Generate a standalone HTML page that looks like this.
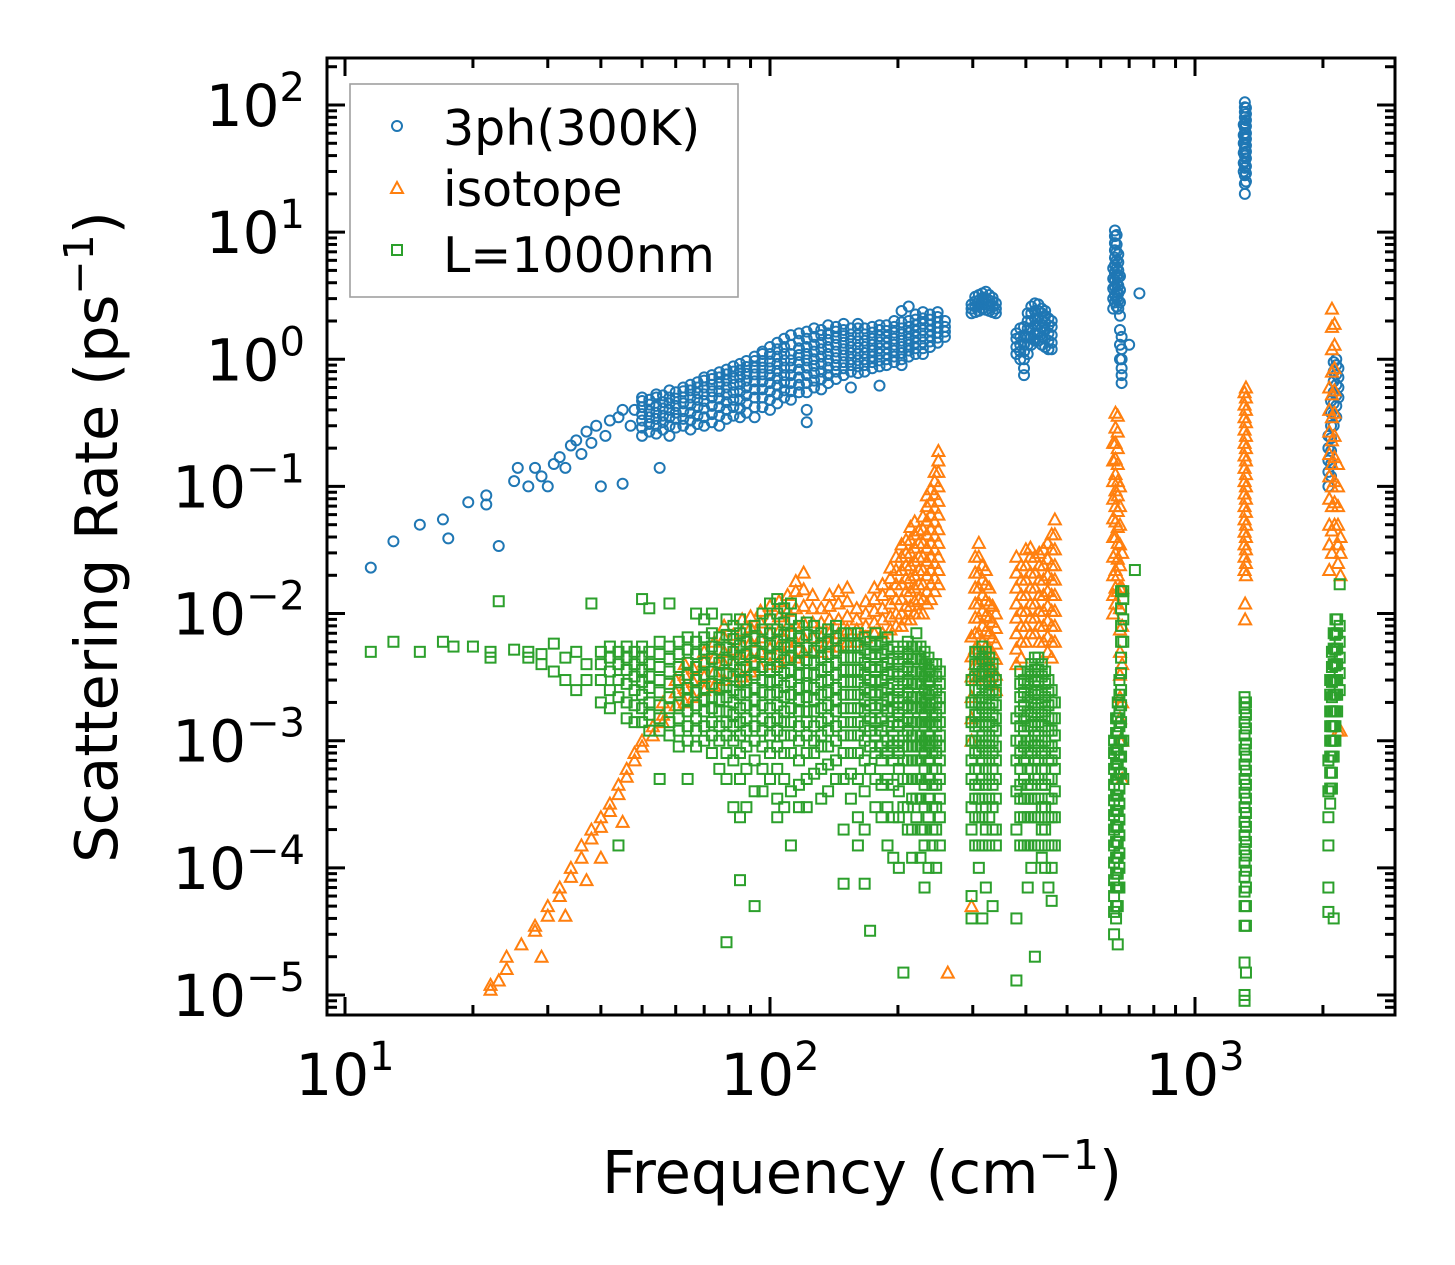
<!DOCTYPE html>
<html><head><meta charset="utf-8"><style>
body{margin:0;background:#fff;}
svg{display:block;font-family:"DejaVu Sans","Liberation Sans",sans-serif;}
</style></head><body>
<svg id="chart" width="1455" height="1265" viewBox="0 0 1455 1265" xmlns="http://www.w3.org/2000/svg">
<rect width="1455" height="1265" fill="#fff"/>
<g id="marks"></g>
<g id="axes"></g>
<g id="legend">
  <rect x="350" y="84" width="388" height="213" fill="#fff" fill-opacity="0.85" stroke="#a0a0a0" stroke-width="1.6"/>
  <circle cx="397" cy="126" r="5" fill="none" stroke="#1f77b4" stroke-width="2"/>
  <text x="443" y="145" font-size="49" fill="#000">3ph(300K)</text>
  <polygon points="397,182 403,193 391,193" fill="none" stroke="#ff7f0e" stroke-width="2"/>
  <text x="443" y="206" font-size="49" fill="#000">isotope</text>
  <rect x="392" y="245" width="10" height="10" fill="none" stroke="#2ca02c" stroke-width="2"/>
  <text x="443" y="272" font-size="49" fill="#000">L=1000nm</text>
</g>
<text x="862" y="1193" font-size="59" text-anchor="middle">Frequency (cm<tspan dy="-24" font-size="41">−1</tspan><tspan dy="24">)</tspan></text>
<text transform="translate(117,537) rotate(-90)" font-size="59" text-anchor="middle">Scattering Rate (ps<tspan dy="-24" font-size="41">−1</tspan><tspan dy="24">)</tspan></text>
</svg>
<script>
const xTickExps = [1, 2, 3];
const yTickExps = [2, 1, 0, -1, -2, -3, -4, -5];
const blueCols = [
[11.5,[0.023]],[13,[0.037]],[15,[0.05]],[17,[0.055]],[17.5,[0.039]],[19.5,[0.075]],[21.5,[0.085,0.072]],[23,[0.034]],
[25,[0.11]],[25.5,[0.14]],[27,[0.1]],[28,[0.14]],[29,[0.12]],[30,[0.1]],[31,[0.15]],[32,[0.17]],[33,[0.14]],[34,[0.21]],
[35,[0.23]],[36,[0.18]],[37,[0.27]],[38,[0.22]],[39,[0.3]],[40,[0.1]],[41,[0.25]],[42,[0.33]],[44,[0.35]],[45,[0.4,0.105]],
[47,[0.3]],[48,[0.4]],[55,[0.14]],
[50,[.25,.29,.33,.37,.42,.47,.5]],[52,[.27,.31,.35,.39,.44,.48]],[54,[.26,.3,.34,.38,.43,.5,.53]],[56,[.28,.32,.36,.41,.46,.52]],
[58,[.25,.3,.35,.4,.45,.5,.57]],[60,[.29,.34,.38,.43,.49,.55]],[62.5,[.3,.34,.39,.45,.5,.56,.6]],[65,[.28,.33,.38,.44,.5,.57,.63]],
[67.5,[.31,.36,.42,.48,.54,.6,.66]],[70,[.3,.35,.41,.47,.53,.6,.68,.72]],[73,[.32,.37,.43,.5,.56,.63,.7,.75]],
[76,[.3,.36,.42,.49,.56,.64,.72,.79]],[79,[.34,.4,.46,.53,.6,.68,.76,.83]],[82,[.36,.42,.48,.55,.63,.71,.8,.88]],
[85,[.35,.41,.48,.56,.64,.73,.82,.92]],[88,[.38,.45,.52,.6,.68,.77,.87,.97]],[92,[.35,.42,.5,.58,.67,.76,.86,.97,1.05]],
[96,[.42,.5,.58,.67,.76,.86,.97,1.1,1.15]],[100,[.4,.48,.56,.65,.75,.85,.96,1.1,1.25]],[104,[.45,.53,.62,.71,.81,.92,1.05,1.2,1.35]],
[108,[.5,.57,.66,.75,.86,.98,1.1,1.25,1.45]],[112,[.48,.56,.65,.75,.86,.98,1.1,1.3,1.55]],[117,[.55,.63,.72,.83,.95,1.08,1.22,1.4,1.6]],
[122,[.32,.4,.55,.65,.75,.86,.98,1.1,1.25,1.45,1.65]],[127,[.6,.68,.78,.89,1.0,1.15,1.3,1.5,1.75]],[132,[.58,.7,.8,.92,1.05,1.2,1.35,1.55,1.7]],
[137,[.65,.75,.86,.98,1.1,1.25,1.42,1.6,1.85]],[143,[.7,.8,.9,1.02,1.15,1.3,1.47,1.65,1.8]],[149,[.75,.85,.95,1.07,1.2,1.35,1.52,1.7,1.9]],
[155,[.6,.8,.9,1.0,1.12,1.25,1.4,1.57,1.75]],[161,[.78,.88,.98,1.1,1.23,1.38,1.55,1.75,1.9]],[167,[.8,.9,1.0,1.12,1.25,1.4,1.57,1.75]],
[174,[.85,.95,1.05,1.17,1.3,1.45,1.62,1.8]],[181,[.62,.88,.98,1.1,1.22,1.36,1.52,1.7,1.85]],[188,[.9,1.0,1.1,1.22,1.35,1.5,1.67,1.85]],
[196,[.95,1.05,1.17,1.3,1.45,1.62,1.8,2.0]],[204,[.9,1.0,1.12,1.25,1.4,1.57,1.75,1.95,2.4]],[212,[1.05,1.17,1.3,1.45,1.62,1.8,2.0,2.6]],
[220,[1.1,1.22,1.35,1.5,1.67,1.85,2.05,2.25]],[229,[1.1,1.22,1.36,1.52,1.7,1.9,2.1,2.35]],[238,[1.25,1.38,1.52,1.68,1.86,2.05,2.25]],
[248,[1.35,1.48,1.62,1.78,1.95,2.15,2.35]],[258,[1.5,1.65,1.8,2.0]],
[298,[2.3,2.5,2.7]],[304,[2.35,2.6,2.85,3.1]],[310,[2.4,2.65,2.9,3.2]],[316,[2.5,2.75,3.0,3.3]],[322,[2.45,2.7,3.0,3.4]],
[328,[2.4,2.65,2.9,3.2]],[334,[2.35,2.6,2.85,3.05]],[340,[2.3,2.5,2.75]],
[380,[1.1,1.25,1.45,1.6]],[388,[1.0,1.15,1.3,1.5,1.75]],[396,[.75,.85,1.0,1.15,1.3,1.5,1.8]],[404,[1.1,1.3,1.5,1.75,2.0,2.3]],
[412,[1.3,1.5,1.75,2.0,2.3,2.6]],[420,[1.4,1.6,1.85,2.1,2.4,2.75]],[428,[1.4,1.6,1.85,2.1,2.4,2.7]],[436,[1.3,1.5,1.75,2.0,2.3,2.5]],
[444,[1.25,1.45,1.7,1.95,2.2,2.4]],[452,[1.2,1.4,1.6,1.85,2.1]],[460,[1.2,1.35,1.55,1.8,2.0]],
[642,[2.5,3,3.6,4.3,5.2]],[648,[2.8,3.2,3.7,4.2,4.8,5.5,6.3,7.2,8.2,9.3,10.3]],[654,[2.6,3,3.4,3.9,4.5,5.2,6,7,8,9.5]],
[660,[2.5,2.9,3.3,3.8,4.4,5,5.8,6.7]],[666,[1.0,1.3,1.7,2.2,2.8,3.5,4.5]],[672,[.65,.75,.85,1.0,1.2,1.5]],[700,[1.3]],[740,[3.3]],
[1302,[30,35,42,50,58,70]],[1310,[20,24,28,32,36,40,45,50,55,60,66,72,80,88,96,105]],[1318,[25,29,33,38,43,48,54,60,68,76,85,95]],
[2060,[.1,.13,.16,.2,.25]],[2090,[.12,.15,.19,.24,.3,.38,.47]],[2120,[.3,.37,.45,.55,.67,.8,.95]],[2150,[.35,.43,.52,.63,.76,.9,1.0]],[2175,[.5,.6,.72,.85]]
];
const orangeCols = [
[22,[1.1e-5,1.2e-5]],[23,[1.3e-5]],[24,[1.6e-5,2e-5]],[26,[2.5e-5]],[28,[3.5e-5,3.2e-5]],[29,[2e-5]],[30,[5e-5,4.2e-5]],
[32,[7e-5,6e-5]],[33,[4.2e-5]],[34,[1e-4,8.5e-5]],[36,[1.5e-4,1.2e-4]],[37,[8e-5]],[38,[2e-4,1.7e-4]],[40,[2.5e-4,2.1e-4,1.2e-4]],
[42,[3.2e-4,2.8e-4]],[44,[4.5e-4,3.8e-4]],[45,[2.3e-4]],[46,[6e-4,5.2e-4]],[48,[8e-4,7e-4]],[50,[1e-3,9e-4]],[53,[1.3e-3,1.1e-3]],
[56,[1.6e-3,1.4e-3,2e-3]],
[60,[1.9e-3,2.4e-3,3e-3]],[63,[2e-3,2.6e-3,3.3e-3,4e-3]],[66,[2.2e-3,2.9e-3,3.7e-3]],[70,[2.5e-3,3.2e-3,4.2e-3,5e-3]],
[74,[2.7e-3,3.5e-3,4.5e-3,6e-3]],[78,[3e-3,4e-3,5e-3,6.5e-3,8e-3]],[82,[3e-3,4e-3,5.2e-3,6.8e-3]],[86,[3.2e-3,4.3e-3,5.6e-3,7.3e-3,9e-3]],
[90,[3.5e-3,4.6e-3,6e-3,7.8e-3,9.5e-3]],[95,[3.8e-3,5e-3,6.5e-3,8.5e-3,1.05e-2]],[100,[4e-3,5.3e-3,7e-3,9e-3,1.15e-2]],
[105,[4.2e-3,5.6e-3,7.3e-3,9.5e-3,1.25e-2]],[110,[4.5e-3,6e-3,8e-3,1.05e-2,1.4e-2]],[115,[4.5e-3,6e-3,8e-3,1.1e-2,1.5e-2,1.8e-2]],
[120,[5e-3,6.5e-3,8.5e-3,1.15e-2,1.55e-2,2.1e-2]],[126,[5e-3,6.5e-3,8.5e-3,1.1e-2,1.4e-2]],[132,[5e-3,6.5e-3,8.5e-3,1.1e-2]],
[138,[5.5e-3,7e-3,9e-3,1.15e-2,1.4e-2]],[145,[5.5e-3,7e-3,9e-3,1.2e-2,1.5e-2]],[152,[6e-3,7.5e-3,9.5e-3,1.25e-2,1.6e-2]],
[160,[6e-3,7.5e-3,9e-3,1.1e-2]],[168,[6.5e-3,8e-3,1e-2,1.25e-2]],[176,[7e-3,8.5e-3,1.05e-2,1.3e-2,1.6e-2]],
[184,[7e-3,9e-3,1.1e-2,1.4e-2,1.7e-2]],[192,[7.5e-3,9.5e-3,1.2e-2,1.5e-2,1.9e-2,2.3e-2]],[198,[8e-3,1e-2,1.3e-2,1.7e-2,2.2e-2,2.8e-2]],
[204,[8e-3,1e-2,1.3e-2,1.7e-2,2.2e-2,2.8e-2,3.5e-2]],[209,[9e-3,1.15e-2,1.5e-2,1.9e-2,2.4e-2,3e-2,3.8e-2]],
[214,[9e-3,1.15e-2,1.5e-2,1.9e-2,2.4e-2,3e-2,3.8e-2,4.8e-2]],[219,[1e-2,1.25e-2,1.6e-2,2e-2,2.6e-2,3.3e-2,4.2e-2,5.3e-2]],
[224,[1e-2,1.3e-2,1.7e-2,2.2e-2,2.8e-2,3.6e-2,4.5e-2]],[229,[1e-2,1.3e-2,1.7e-2,2.2e-2,2.8e-2,3.6e-2,4.6e-2,5.8e-2]],
[234,[1.2e-2,1.5e-2,2e-2,2.6e-2,3.3e-2,4.2e-2,5.4e-2,7e-2,8.5e-2]],[239,[1.3e-2,1.7e-2,2.2e-2,2.8e-2,3.6e-2,4.6e-2,6e-2,7.6e-2,9.5e-2]],
[244,[1.5e-2,1.9e-2,2.5e-2,3.2e-2,4.1e-2,5.3e-2,6.8e-2,8.7e-2,1.1e-1,1.3e-1]],
[249,[1.7e-2,2.2e-2,2.8e-2,3.6e-2,4.6e-2,6e-2,7.7e-2,1e-1,1.3e-1,1.6e-1,1.9e-1]],[262,[1.5e-5]],
[298,[5e-5,1e-3,1.5e-3,2.2e-3,3.2e-3,4.6e-3,6.6e-3]],[304,[3e-3,4e-3,5.3e-3,7e-3,9.3e-3,1.2e-2,1.6e-2,2.1e-2,2.8e-2]],
[310,[3e-3,4e-3,5.3e-3,7e-3,9.3e-3,1.2e-2,1.6e-2,2.1e-2,2.8e-2,3.6e-2]],[316,[3.5e-3,4.6e-3,6e-3,8e-3,1.05e-2,1.4e-2,1.85e-2,2.4e-2]],
[322,[3.2e-3,4.2e-3,5.5e-3,7.3e-3,9.6e-3,1.27e-2,1.7e-2,2.2e-2]],[328,[3e-3,4e-3,5.3e-3,7e-3,9.3e-3,1.2e-2,1.6e-2]],
[334,[2.8e-3,3.7e-3,4.9e-3,6.5e-3,8.6e-3,1.15e-2]],[340,[2.5e-3,3.3e-3,4.4e-3,5.8e-3,7.7e-3,1e-2]],
[380,[4e-3,5.3e-3,7e-3,9.3e-3,1.2e-2,1.6e-2,2.1e-2,2.8e-2]],[390,[4.5e-3,6e-3,8e-3,1.05e-2,1.4e-2,1.85e-2,2.4e-2]],
[400,[6e-3,8e-3,1.05e-2,1.4e-2,1.85e-2,2.4e-2,3.2e-2]],[410,[7e-3,9.3e-3,1.2e-2,1.6e-2,2.1e-2,2.8e-2,3.3e-2]],
[420,[7e-3,9.3e-3,1.2e-2,1.6e-2,2.1e-2,2.8e-2]],[430,[6e-3,8e-3,1.05e-2,1.4e-2,1.85e-2,2.4e-2,3e-2]],
[440,[6e-3,8e-3,1.05e-2,1.4e-2,1.85e-2,2.4e-2,3.2e-2]],[450,[5e-3,6.6e-3,8.8e-3,1.15e-2,1.5e-2,2e-2,2.7e-2,3.6e-2]],
[460,[4.5e-3,6e-3,8e-3,1.05e-2,1.4e-2,1.85e-2,2.4e-2,3.2e-2,4.2e-2]],[468,[6e-3,8e-3,1.05e-2,1.4e-2,1.85e-2,2.4e-2,3.2e-2,4.2e-2,5.5e-2]],
[642,[1e-2,1.4e-2,2e-2,2.8e-2,4e-2,5.6e-2,8e-2,1.1e-1,1.6e-1,2.2e-1]],
[650,[1.2e-2,1.6e-2,2.2e-2,3e-2,4e-2,5.3e-2,7e-2,9.3e-2,1.25e-1,1.65e-1,2.2e-1,2.9e-1,3.8e-1]],
[658,[1.5e-2,2e-2,2.7e-2,3.6e-2,4.8e-2,6.4e-2,8.5e-2,1.1e-1,1.5e-1,2e-1,2.7e-1,3.6e-1]],
[666,[1e-3,1.5e-3,2.2e-3,3.3e-3,5e-3,7.5e-3,1.1e-2,1.6e-2,2.4e-2,3.5e-2,5e-2,7e-2,1e-1]],
[674,[5e-4,1e-3,2e-3,4e-3,8e-3,1.6e-2,3e-2]],
[1308,[2.2e-2,2.8e-2,3.5e-2,4.4e-2,5.5e-2,7e-2,8.8e-2,1.1e-1,1.4e-1,1.75e-1,2.2e-1,2.8e-1,3.5e-1,4.4e-1,5.5e-1]],
[1318,[2e-2,2.5e-2,3.2e-2,4e-2,5e-2,6.3e-2,8e-2,1e-1,1.25e-1,1.6e-1,2e-1,2.5e-1,3.2e-1,4e-1,5e-1,6e-1]],[1312,[1.2e-2,9e-3]],
[2070,[2.2e-2,3.5e-2,5e-2,8e-2,1.2e-1,1.8e-1,2.7e-1,4e-1,6e-1]],
[2100,[3e-2,4.5e-2,7e-2,1e-1,1.5e-1,2.3e-1,3.5e-1,5.3e-1,8e-1,1.2,1.8,2.5]],
[2130,[5e-2,7.5e-2,1.1e-1,1.7e-1,2.5e-1,3.8e-1,5.7e-1,8.5e-1,1.3,1.9]],
[2170,[1.2e-3,2.5e-2,3.5e-2,5e-2,7e-2,1e-1,1.5e-1]],[2200,[1.2e-3,2e-2,3e-2,4e-2]]
];
const greenCols = [
[11.5,[5e-3]],[13,[6e-3]],[15,[5e-3]],[17,[6e-3]],[18,[5.5e-3]],[20,[5.5e-3]],[22,[4.5e-3,5e-3]],[23,[1.25e-2]],[25,[5.2e-3]],
[27,[4.5e-3,5e-3]],[29,[4.8e-3,4e-3]],[31,[5.8e-3,3.5e-3]],[33,[4.5e-3,3e-3]],[35,[5e-3,2.5e-3]],[37,[4e-3,3e-3]],[38,[1.2e-2]],
[40,[5e-3,4e-3,3e-3,2e-3]],[42,[5.5e-3,4.5e-3,3.5e-3,2.5e-3,1.8e-3]],[44,[5e-3,4e-3,3e-3,2.2e-3,1.5e-4]],
[46,[5.5e-3,4.5e-3,3.6e-3,2.8e-3,2e-3,1.5e-3]],[48,[5e-3,4e-3,3.2e-3,2.5e-3,1.9e-3,1.4e-3]],
[50,[1.3e-2,5.5e-3,4.5e-3,3.6e-3,2.9e-3,2.3e-3,1.8e-3,1.4e-3]],[52,[1.1e-2,5e-3,4e-3,3.2e-3,2.6e-3,2e-3,1.6e-3,1.2e-3]],
[55,[6e-3,4.8e-3,3.8e-3,3e-3,2.4e-3,1.9e-3,1.5e-3,1.2e-3,5e-4]],[58,[1.2e-2,5.5e-3,4.4e-3,3.5e-3,2.8e-3,2.2e-3,1.8e-3,1.4e-3,1.1e-3]],
[61,[6e-3,4.8e-3,3.8e-3,3e-3,2.4e-3,1.9e-3,1.5e-3,1.2e-3,9e-4]],[64,[6.5e-3,5.2e-3,4.1e-3,3.3e-3,2.6e-3,2.1e-3,1.7e-3,1.3e-3,1e-3,5e-4]],
[67,[1e-2,6e-3,4.8e-3,3.8e-3,3e-3,2.4e-3,1.9e-3,1.5e-3,1.2e-3,9e-4]],[70,[9e-3,6.5e-3,5.2e-3,4.1e-3,3.3e-3,2.6e-3,2.1e-3,1.7e-3,1.3e-3,1e-3]],
[73,[1e-2,7e-3,5.5e-3,4.4e-3,3.5e-3,2.8e-3,2.2e-3,1.8e-3,1.4e-3,1.1e-3,8e-4]],[76,[6.5e-3,5.2e-3,4.1e-3,3.3e-3,2.6e-3,2.1e-3,1.7e-3,1.3e-3,1e-3,6e-4]],
[79,[9e-3,6.8e-3,5.4e-3,4.3e-3,3.4e-3,2.7e-3,2.2e-3,1.7e-3,1.4e-3,1.1e-3,8e-4,5e-4,2.6e-5]],
[82,[8e-3,6.3e-3,5e-3,4e-3,3.2e-3,2.5e-3,2e-3,1.6e-3,1.3e-3,1e-3,7e-4,3e-4]],
[85,[9e-3,7e-3,5.6e-3,4.5e-3,3.6e-3,2.9e-3,2.3e-3,1.8e-3,1.4e-3,1.1e-3,8e-4,5e-4,2.5e-4,8e-5]],
[88,[7.5e-3,6e-3,4.8e-3,3.8e-3,3e-3,2.4e-3,1.9e-3,1.5e-3,1.2e-3,9e-4,6e-4,3e-4]],
[92,[8e-3,6.4e-3,5.1e-3,4.1e-3,3.3e-3,2.6e-3,2.1e-3,1.7e-3,1.3e-3,1e-3,7e-4,4e-4,5e-5]],
[96,[1e-2,7.5e-3,6e-3,4.8e-3,3.8e-3,3e-3,2.4e-3,1.9e-3,1.5e-3,1.2e-3,9e-4,6e-4,4e-4]],
[100,[1.2e-2,9e-3,7e-3,5.6e-3,4.5e-3,3.6e-3,2.9e-3,2.3e-3,1.8e-3,1.4e-3,1.1e-3,8e-4,5e-4]],
[104,[1.3e-2,1e-2,7.5e-3,6e-3,4.8e-3,3.8e-3,3e-3,2.4e-3,1.9e-3,1.5e-3,1.2e-3,9e-4,6e-4,3.5e-4,2.5e-4]],
[108,[1.1e-2,8.5e-3,6.8e-3,5.4e-3,4.3e-3,3.4e-3,2.7e-3,2.2e-3,1.7e-3,1.4e-3,1.1e-3,8e-4,5e-4,3e-4]],
[112,[1.2e-2,9e-3,7e-3,5.6e-3,4.5e-3,3.6e-3,2.9e-3,2.3e-3,1.8e-3,1.4e-3,1.1e-3,8e-4,4e-4,1.5e-4]],
[117,[8e-3,6.4e-3,5.1e-3,4.1e-3,3.3e-3,2.6e-3,2.1e-3,1.7e-3,1.3e-3,1e-3,7e-4,4.5e-4,3e-4]],
[122,[8.5e-3,6.8e-3,5.4e-3,4.3e-3,3.4e-3,2.7e-3,2.2e-3,1.7e-3,1.4e-3,1.1e-3,8e-4,5e-4,3e-4]],
[127,[8e-3,6.4e-3,5.1e-3,4.1e-3,3.3e-3,2.6e-3,2.1e-3,1.7e-3,1.3e-3,1e-3,8e-4,5.5e-4]],
[132,[7e-3,5.6e-3,4.5e-3,3.6e-3,2.9e-3,2.3e-3,1.8e-3,1.4e-3,1.1e-3,9e-4,6e-4,3.5e-4]],
[137,[7.5e-3,6e-3,4.8e-3,3.8e-3,3e-3,2.4e-3,1.9e-3,1.5e-3,1.2e-3,9e-4,6.5e-4,4e-4]],
[143,[8e-3,6.4e-3,5.1e-3,4.1e-3,3.3e-3,2.6e-3,2.1e-3,1.7e-3,1.3e-3,1e-3,7e-4,5e-4]],
[149,[7e-3,5.6e-3,4.5e-3,3.6e-3,2.9e-3,2.3e-3,1.8e-3,1.4e-3,1.1e-3,8e-4,5e-4,2e-4,7.5e-5]],
[155,[7e-3,5.6e-3,4.5e-3,3.6e-3,2.9e-3,2.3e-3,1.8e-3,1.4e-3,1.1e-3,8e-4,5.5e-4,3.5e-4]],
[161,[7e-3,5.6e-3,4.5e-3,3.6e-3,2.9e-3,2.3e-3,1.8e-3,1.4e-3,1.1e-3,8e-4,5e-4,2.5e-4,1.5e-4]],
[167,[6.5e-3,5.2e-3,4.1e-3,3.3e-3,2.6e-3,2.1e-3,1.7e-3,1.3e-3,1e-3,7e-4,4e-4,2e-4,7.5e-5]],
[172,[6e-3,4.8e-3,3.8e-3,3e-3,2.4e-3,1.9e-3,1.5e-3,1.2e-3,9e-4,6e-4,3.2e-5]],
[177,[7e-3,5.6e-3,4.5e-3,3.6e-3,2.9e-3,2.3e-3,1.8e-3,1.4e-3,1.1e-3,8e-4,5e-4,3e-4]],
[183,[6e-3,4.8e-3,3.8e-3,3e-3,2.4e-3,1.9e-3,1.5e-3,1.2e-3,9e-4,7e-4,4.5e-4,2.5e-4]],
[189,[6.5e-3,5.2e-3,4.1e-3,3.3e-3,2.6e-3,2.1e-3,1.7e-3,1.3e-3,1e-3,8e-4,5e-4,3e-4,1.5e-4]],
[195,[5.5e-3,4.4e-3,3.5e-3,2.8e-3,2.2e-3,1.8e-3,1.4e-3,1.1e-3,9e-4,7e-4,4.5e-4,2.5e-4,1.2e-4]],
[201,[5e-3,4e-3,3.2e-3,2.5e-3,2e-3,1.6e-3,1.3e-3,1e-3,8e-4,6e-4,4e-4,2.5e-4,1e-4]],
[206,[5.5e-3,4.4e-3,3.5e-3,2.8e-3,2.2e-3,1.8e-3,1.4e-3,1.1e-3,9e-4,7e-4,5e-4,3e-4,1.5e-5]],
[211,[6e-3,4.8e-3,3.8e-3,3e-3,2.4e-3,1.9e-3,1.5e-3,1.2e-3,9e-4,7e-4,5e-4,3e-4,2e-4]],
[216,[5.5e-3,4.4e-3,3.5e-3,2.8e-3,2.2e-3,1.8e-3,1.4e-3,1.1e-3,9e-4,7e-4,5e-4,3.5e-4,2e-4,1.2e-4]],
[221,[7e-3,5.5e-3,4.4e-3,3.5e-3,2.8e-3,2.2e-3,1.8e-3,1.4e-3,1.1e-3,9e-4,7e-4,5e-4,3.5e-4,2.5e-4]],
[226,[5.5e-3,4.4e-3,3.5e-3,2.8e-3,2.2e-3,1.8e-3,1.4e-3,1.1e-3,9e-4,7e-4,5e-4,3.5e-4,2e-4,1.2e-4]],
[231,[5e-3,4e-3,3.2e-3,2.5e-3,2e-3,1.6e-3,1.3e-3,1e-3,8e-4,6e-4,4.5e-4,3e-4,2e-4,1.5e-4,7e-5]],
[236,[4.5e-3,3.6e-3,2.9e-3,2.3e-3,1.8e-3,1.4e-3,1.1e-3,9e-4,7e-4,5e-4,3.5e-4,2.5e-4,1e-4]],
[241,[4e-3,3.2e-3,2.5e-3,2e-3,1.6e-3,1.3e-3,1e-3,8e-4,6e-4,4.5e-4,3e-4,2e-4,1.5e-4]],
[246,[4e-3,3.2e-3,2.5e-3,2e-3,1.6e-3,1.3e-3,1e-3,8e-4,6e-4,4.5e-4,3e-4,2e-4,1e-4]],
[251,[3.5e-3,2.8e-3,2.2e-3,1.8e-3,1.4e-3,1.1e-3,9e-4,7e-4,5e-4,3.5e-4,2.5e-4,1.5e-4]],
[298,[3e-3,2e-3,1.4e-3,1e-3,7e-4,5e-4,3e-4,2e-4,6e-5,4e-5]],
[304,[5e-3,4e-3,3.2e-3,2.5e-3,2e-3,1.6e-3,1.3e-3,1e-3,8e-4,6e-4,4.5e-4,3.5e-4,2.5e-4,1.5e-4]],
[310,[5e-3,4e-3,3.2e-3,2.5e-3,2e-3,1.6e-3,1.3e-3,1e-3,8e-4,6e-4,4.5e-4,3.5e-4,2.5e-4,1.5e-4,1e-4]],
[316,[5.5e-3,4.4e-3,3.5e-3,2.8e-3,2.2e-3,1.8e-3,1.4e-3,1.1e-3,9e-4,7e-4,5e-4,3.5e-4,2.5e-4,1.5e-4,4e-5]],
[322,[5e-3,4e-3,3.2e-3,2.5e-3,2e-3,1.6e-3,1.3e-3,1e-3,8e-4,6e-4,4.5e-4,3e-4,2e-4,7e-5]],
[328,[4.5e-3,3.6e-3,2.9e-3,2.3e-3,1.8e-3,1.4e-3,1.1e-3,9e-4,7e-4,5e-4,3.5e-4,2.5e-4,1.5e-4]],
[334,[4e-3,3.2e-3,2.5e-3,2e-3,1.6e-3,1.3e-3,1e-3,8e-4,6e-4,4.5e-4,3e-4,2e-4,5e-5]],
[340,[3e-3,2.4e-3,1.9e-3,1.5e-3,1.2e-3,9e-4,7e-4,5e-4,3.5e-4,2e-4,1.5e-4]],
[380,[1.5e-3,1e-3,7e-4,4e-4,2e-4,4e-5,1.3e-5]],
[388,[3.5e-3,2.8e-3,2.2e-3,1.7e-3,1.3e-3,1e-3,8e-4,6e-4,4.5e-4,3.5e-4,2.5e-4,1.5e-4]],
[396,[3e-3,2.4e-3,1.9e-3,1.5e-3,1.2e-3,9e-4,7e-4,5e-4,3.5e-4,2.5e-4,1.5e-4]],
[404,[3.5e-3,2.8e-3,2.2e-3,1.7e-3,1.3e-3,1e-3,8e-4,6e-4,4.5e-4,3.5e-4,2.5e-4,1.5e-4,7e-5]],
[412,[4e-3,3.2e-3,2.5e-3,2e-3,1.6e-3,1.3e-3,1e-3,8e-4,6e-4,4.5e-4,3.5e-4,2.5e-4,1.5e-4,1e-4]],
[420,[4.5e-3,3.6e-3,2.9e-3,2.3e-3,1.8e-3,1.4e-3,1.1e-3,9e-4,7e-4,5e-4,3.5e-4,2.5e-4,1.5e-4,2e-5]],
[428,[4.5e-3,3.6e-3,2.9e-3,2.3e-3,1.8e-3,1.4e-3,1.1e-3,9e-4,7e-4,5e-4,3.5e-4,2.5e-4,1.5e-4]],
[436,[4e-3,3.2e-3,2.5e-3,2e-3,1.6e-3,1.3e-3,1e-3,8e-4,6e-4,4.5e-4,3e-4,2e-4,1.2e-4]],
[444,[3.5e-3,2.8e-3,2.2e-3,1.7e-3,1.3e-3,1e-3,8e-4,6e-4,4.5e-4,3e-4,2e-4,1e-4]],
[452,[3e-3,2.4e-3,1.9e-3,1.5e-3,1.2e-3,9e-4,7e-4,5e-4,3.5e-4,2.5e-4,1.5e-4,7e-5]],
[460,[2.5e-3,2e-3,1.5e-3,1.2e-3,9e-4,7e-4,5e-4,3.5e-4,2.5e-4,1.5e-4,1e-4,5.5e-5]],
[468,[2e-3,1.5e-3,1.1e-3,8e-4,6e-4,4e-4,2.5e-4,1.5e-4]],
[645,[1e-3,8e-4,6e-4,4.5e-4,3.4e-4,2.6e-4,2e-4,1.5e-4,1.1e-4,8e-5,6e-5,4.5e-5,3e-5]],
[652,[1.5e-3,1.15e-3,8.5e-4,6.5e-4,5e-4,3.7e-4,2.8e-4,2.1e-4,1.6e-4,1.2e-4,9e-5,7e-5,5e-5,4e-5]],
[658,[2e-3,1.5e-3,1.15e-3,8.5e-4,6.5e-4,5e-4,3.7e-4,2.8e-4,2.1e-4,1.6e-4,1.2e-4,9e-5,7e-5,5e-5,2.5e-5]],
[664,[3e-3,2.3e-3,1.7e-3,1.3e-3,1e-3,7.5e-4,5.6e-4,4.2e-4,3.2e-4,2.4e-4,1.8e-4,1.3e-4,1e-4,7e-5]],
[670,[1.5e-2,1.1e-2,8e-3,6e-3,4.5e-3,3.4e-3,2.5e-3,1.9e-3,1.4e-3,1e-3,7.5e-4,5.5e-4]],
[678,[1.5e-2,1.3e-2,9e-3,6e-3,1e-3,5e-4]],[722,[2.2e-2]],
[1308,[2.2e-3,1.8e-3,1.4e-3,1.1e-3,8.5e-4,6.5e-4,5e-4,3.9e-4,3e-4,2.3e-4,1.8e-4,1.4e-4,1.1e-4,8.5e-5,6.5e-5,5e-5,3.5e-5,1.8e-5,1e-5,9e-6]],
[1318,[2e-3,1.6e-3,1.25e-3,9.5e-4,7.5e-4,5.8e-4,4.5e-4,3.5e-4,2.7e-4,2.1e-4,1.6e-4,1.25e-4,9.5e-5,7e-5,5e-5,3.5e-5,1.5e-5]],
[2060,[7e-4,4e-4,2.5e-4,1.5e-4,7e-5,4.5e-5]],[2080,[3e-3,2.3e-3,1.7e-3,1.3e-3,1e-3,7.5e-4,5.6e-4,4.2e-4,3.2e-4]],
[2100,[5e-3,3.8e-3,2.9e-3,2.2e-3,1.7e-3,1.3e-3,1e-3,7.5e-4,5.6e-4,4.2e-4]],
[2120,[7e-3,5.3e-3,4e-3,3e-3,2.3e-3,1.7e-3,1.3e-3,1e-3,7.5e-4,4e-5]],
[2140,[9e-3,6.8e-3,5.2e-3,3.9e-3,3e-3,2.3e-3,1.7e-3,1.3e-3,1e-3]],[2160,[9e-3,7e-3,5.3e-3,4e-3,3e-3,2.3e-3,1.7e-3]],
[2190,[8e-3,6e-3,4.5e-3,3.4e-3,2.5e-3,1.7e-2]]
];

const NS = "http://www.w3.org/2000/svg";
const L = 327, R = 1395, T = 58, B = 1015;
function X(f){ return 345 + 425 * Math.log10(f / 10); }
function Y(r){ return 105 + 127.14 * (2 - Math.log10(r)); }
function mk(tag, attrs, parent){ const e = document.createElementNS(NS, tag); for (const k in attrs) e.setAttribute(k, attrs[k]); parent.appendChild(e); return e; }

const marks = document.getElementById('marks');
const gB = mk('g', {fill:'none', stroke:'#1f77b4', 'stroke-width':2}, marks);


const gO = mk('g', {fill:'none', stroke:'#ff7f0e', 'stroke-width':2}, marks);


const gG = mk('g', {fill:'none', stroke:'#2ca02c', 'stroke-width':2}, marks);



blueCols.forEach(([f, rs]) => rs.forEach(r => {
  const c = mk('circle', {cx:X(f), cy:Y(r), r:5}, gB);
  
  
}));
orangeCols.forEach(([f, rs]) => rs.forEach(r => {
  const x = X(f), y = Y(r);
  const p = mk('polygon', {points:`${x},${y-6} ${x+6},${y+5} ${x-6},${y+5}`}, gO);
  
  
}));
greenCols.forEach(([f, rs]) => rs.forEach(r => {
  const q = mk('rect', {x:X(f)-5, y:Y(r)-5, width:10, height:10}, gG);
  
  
}));

const axes = document.getElementById('axes');
const frame = mk('rect', {x:L, y:T, width:R-L, height:B-T, fill:'none', stroke:'#000', 'stroke-width':3}, axes);


const tk = mk('g', {stroke:'#000', 'stroke-width':3}, axes);


for (let e = 0; e <= 3; e++) for (let m = 1; m <= 9; m++) {
  const x = X(m * Math.pow(10, e)); if (x < L + 1 || x > R - 1) continue;
  const len = m === 1 ? 18 : 10;
  mk('line', {x1:x, y1:B, x2:x, y2:B-len}, tk); mk('line', {x1:x, y1:T, x2:x, y2:T+len}, tk);
}
for (let e = -6; e <= 2; e++) for (let m = 1; m <= 9; m++) {
  const y = Y(m * Math.pow(10, e)); if (y < T + 1 || y > B - 1) continue;
  const len = m === 1 ? 18 : 10;
  mk('line', {x1:L, y1:y, x2:L+len, y2:y}, tk); mk('line', {x1:R, y1:y, x2:R-len, y2:y}, tk);
}
const sup = e => String(e).replace('-', '−');
xTickExps.forEach(e => {
  const t = mk('text', {x:X(Math.pow(10, e)), y:1095, 'font-size':58, 'text-anchor':'middle'}, axes);
  
  
  t.innerHTML = `10<tspan dy="-25" font-size="40">${sup(e)}</tspan>`;
});
yTickExps.forEach(e => {
  const t = mk('text', {x:305, y:Y(Math.pow(10, e)) + 21, 'font-size':58, 'text-anchor':'end'}, axes);
  
  
  t.innerHTML = `10<tspan dy="-25" font-size="40">${sup(e)}</tspan>`;
});
</script>
</body></html>
